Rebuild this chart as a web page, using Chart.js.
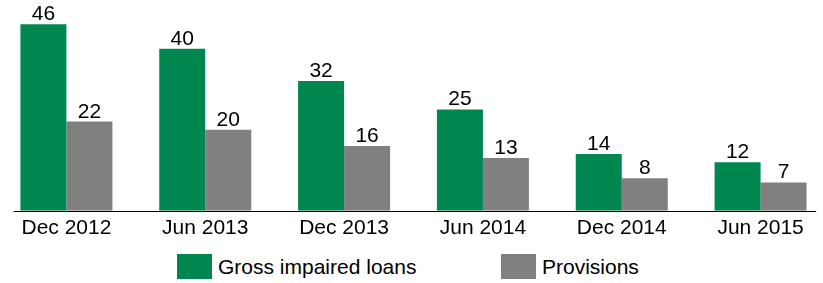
<!DOCTYPE html>
<html lang="en">
  <head>
    <meta charset="UTF-8">
    <title>Impaired loans and provisions</title>
    <style>
      html, body { margin: 0; padding: 0; background: #fff; overflow: hidden; }
      body { width: 823px; height: 283px; position: relative; font-family: "Liberation Sans", Arial, sans-serif; }
      .chart-box { position: absolute; left: -3px; top: 0; width: 833px; height: 247px; }
      #legend { position: absolute; top: 254px; left: 0; width: 823px; height: 25px; }
      .legend-item { position: absolute; top: 0; height: 25px; display: flex; align-items: center; font-size: 21px; color: #000; white-space: nowrap; }
      .legend-item span.box { display: inline-block; width: 35px; height: 25px; margin-right: 6px; }
    </style>
  </head>
  <body>
    <div class="chart-box">
      <canvas id="myChart"></canvas>
    </div>
    <div id="legend"></div>

    <script src="https://cdn.jsdelivr.net/npm/chart.js"></script>
    <script>
      // datos
      const periods = ['Dec 2012', 'Jun 2013', 'Dec 2013', 'Jun 2014', 'Dec 2014', 'Jun 2015'];
      const grossImpaired = [46, 40, 32, 25, 14, 12];
      const provisions = [22, 20, 16, 13, 8, 7];
      const seriesNames = ['Gross impaired loans', 'Provisions'];

      const green = '#00874f';
      const grey = '#808080';

      // valores encima de cada barra
      const barLabels = {
        id: 'barLabels',
        afterDatasetsDraw(chart) {
          const ctx = chart.ctx;
          ctx.save();
          ctx.font = '21px "Liberation Sans", Arial, sans-serif';
          ctx.fillStyle = '#000';
          ctx.textAlign = 'center';
          ctx.textBaseline = 'alphabetic';
          chart.data.datasets.forEach((ds, i) => {
            chart.getDatasetMeta(i).data.forEach((bar, j) => {
              ctx.fillText(ds.data[j], bar.x, bar.y - 4);
            });
          });
          ctx.restore();
        }
      };

      // linea base del eje x
      const baseLine = {
        id: 'baseLine',
        afterDatasetsDraw(chart) {
          const x = chart.scales.x, y = chart.scales.y;
          const y0 = Math.round(y.getPixelForValue(0)) + 0.5;
          const step = x.getPixelForValue(1) - x.getPixelForValue(0);
          const ctx = chart.ctx;
          ctx.save();
          ctx.strokeStyle = '#000';
          ctx.lineWidth = 1.2;
          ctx.beginPath();
          ctx.moveTo(x.getPixelForValue(0) - step * 0.38, y0);
          ctx.lineTo(x.getPixelForValue(periods.length - 1) + step * 0.40, y0);
          ctx.stroke();
          ctx.restore();
        }
      };

      const ctx = document.getElementById('myChart');
      const myChart = new Chart(ctx, {
        type: 'bar',
        data: {
          labels: periods,
          datasets: [
            { label: seriesNames[0], data: grossImpaired, backgroundColor: green },
            { label: seriesNames[1], data: provisions, backgroundColor: grey }
          ]
        },
        options: {
          responsive: true,
          maintainAspectRatio: false,
          animation: false,
          categoryPercentage: 0.6627,
          barPercentage: 1,
          layout: { padding: { top: 0, left: 0, right: 0, bottom: 1 } },
          plugins: {
            legend: { display: false },
            tooltip: { enabled: false }
          },
          scales: {
            x: {
              grid: { display: false, drawTicks: false },
              border: { display: false },
              ticks: {
                color: '#000',
                padding: 5,
                maxRotation: 0,
                font: { family: '"Liberation Sans", Arial, sans-serif', size: 21 }
              }
            },
            y: {
              display: false,
              min: 0,
              max: 52
            }
          }
        },
        plugins: [barLabels, baseLine]
      });

      // leyenda en html
      const legendPos = [177, 501];
      const legend = document.getElementById('legend');
      myChart.data.datasets.forEach((ds, i) => {
        const item = document.createElement('div');
        item.className = 'legend-item';
        item.style.left = legendPos[i] + 'px';
        item.innerHTML = '<span class="box" style="background:' + ds.backgroundColor + '"></span>' + ds.label;
        legend.appendChild(item);
      });
    </script>
  </body>
</html>
